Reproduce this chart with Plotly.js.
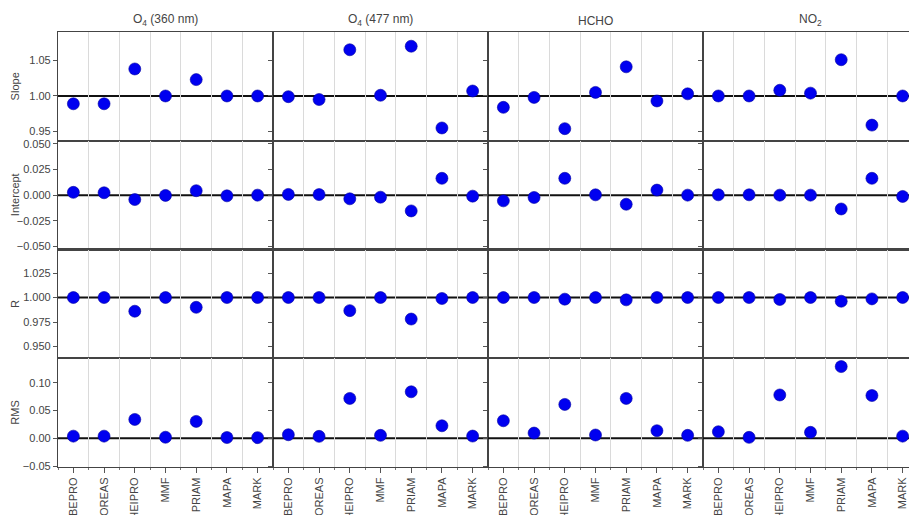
<!DOCTYPE html>
<html>
<head>
<meta charset="utf-8">
<script src="https://cdn.plot.ly/plotly-3.0.1.min.js"></script>
<style>
  html, body { margin: 0; padding: 0; overflow: hidden; background: #fff; }
</style>
</head>
<body>
<div id="chart"></div>
<script>
// Retrieval codes on the x axis of every panel
const retrievals = ['BEPRO', 'OREAS', 'HEIPRO', 'MMF', 'PRIAM', 'MAPA', 'MARK'];
// Column headers (species) and row labels (regression statistics)
const species = ['O<sub>4</sub> (360 nm)', 'O<sub>4</sub> (477 nm)', 'HCHO', 'NO<sub>2</sub>'];
const metrics = ['Slope', 'Intercept', 'R', 'RMS'];

// Slope
const slopeO4_360 = [0.989, 0.989, 1.038, 1.000, 1.023, 1.000, 1.000];
const slopeO4_477 = [0.999, 0.995, 1.065, 1.001, 1.070, 0.955, 1.007];
const slopeHCHO   = [0.984, 0.998, 0.954, 1.005, 1.041, 0.993, 1.003];
const slopeNO2    = [1.000, 1.000, 1.008, 1.004, 1.051, 0.959, 1.000];

// Intercept
const interceptO4_360 = [0.0027, 0.0023, -0.0043, -0.0003, 0.0043, -0.0007, 0.0000];
const interceptO4_477 = [0.0007, 0.0005, -0.0036, -0.0020, -0.0154, 0.0164, -0.0010];
const interceptHCHO   = [-0.0056, -0.0023, 0.0164, 0.0003, -0.0089, 0.0049, 0.0000];
const interceptNO2    = [0.0003, 0.0003, 0.0000, 0.0000, -0.0135, 0.0164, -0.0013];

// Correlation coefficient
const rO4_360 = [1.000, 1.000, 0.986, 1.000, 0.990, 1.000, 1.000];
const rO4_477 = [1.000, 1.000, 0.9866, 1.000, 0.978, 0.999, 1.000];
const rHCHO   = [1.000, 1.000, 0.9983, 1.000, 0.9976, 1.000, 1.000];
const rNO2    = [1.000, 1.000, 0.998, 1.000, 0.9962, 0.9986, 1.000];

// RMS
const rmsO4_360 = [0.004, 0.004, 0.034, 0.002, 0.0305, 0.0015, 0.0013];
const rmsO4_477 = [0.0065, 0.0036, 0.0718, 0.0054, 0.0837, 0.0226, 0.0041];
const rmsHCHO   = [0.0316, 0.0095, 0.061, 0.006, 0.0718, 0.0137, 0.0054];
const rmsNO2    = [0.0119, 0.0018, 0.078, 0.0108, 0.129, 0.077, 0.004];

const table = [
  [slopeO4_360, slopeO4_477, slopeHCHO, slopeNO2],
  [interceptO4_360, interceptO4_477, interceptHCHO, interceptNO2],
  [rO4_360, rO4_477, rHCHO, rNO2],
  [rmsO4_360, rmsO4_477, rmsHCHO, rmsNO2]
];

// Per-row axis settings and the ideal value drawn as a bold line
const yRanges = [[0.937, 1.09], [-0.053, 0.053], [0.938, 1.049], [-0.0515, 0.144]];
const yDticks = [0.05, 0.025, 0.025, 0.05];
const yFormats = ['.2f', '.3f', '.3f', '.2f'];
const idealValues = [1, 0, 1, 0];

const FONT = 'Liberation Sans, Arial, sans-serif';
const TXT = '#444';
const nRows = 4, nCols = 4;
const xIdx = retrievals.map((_, i) => i);

const data = [];
const layout = {
  width: 920, height: 515,
  margin: { l: 58, r: 2, t: 32, b: 48 },
  paper_bgcolor: '#fff', plot_bgcolor: '#fff',
  showlegend: false,
  font: { family: FONT, size: 11, color: TXT },
  shapes: [], annotations: []
};

for (let r = 0; r < nRows; r++) {
  for (let c = 0; c < nCols; c++) {
    const i = r * nCols + c + 1;
    const xs = i === 1 ? '' : String(i);
    const bottom = r === nRows - 1;
    const left = c === 0;

    data.push({
      type: 'scatter', mode: 'markers',
      x: xIdx, y: table[r][c],
      xaxis: 'x' + xs, yaxis: 'y' + xs,
      marker: { color: '#0000f0', size: 12, line: { width: 0.6, color: '#0000a0' } },
      cliponaxis: false,
      hoverinfo: 'skip'
    });

    layout['xaxis' + xs] = {
      domain: [c / nCols, (c + 1) / nCols],
      anchor: 'y' + xs,
      range: [-0.5, retrievals.length - 0.5],
      tickmode: 'array', tickvals: xIdx, ticktext: retrievals,
      showticklabels: bottom, tickangle: -90,
      ticks: bottom ? 'outside' : '', ticklen: 5, tickcolor: '#555', tickwidth: 1,
      tickfont: { family: FONT, size: 11, color: TXT },
      showgrid: false, zeroline: false,
      minor: { tick0: -0.5, dtick: 1, showgrid: true, gridcolor: '#dadada', gridwidth: 1,
               ticks: bottom ? 'outside' : '', ticklen: 2, tickcolor: '#777' },
      showline: true, mirror: true, linecolor: '#444', linewidth: 1.1,
      fixedrange: true
    };

    layout['yaxis' + xs] = {
      domain: [1 - (r + 1) / nRows, 1 - r / nRows],
      anchor: 'x' + xs,
      range: yRanges[r],
      tickmode: 'linear', tick0: 0, dtick: yDticks[r], tickformat: yFormats[r],
      showticklabels: left,
      ticks: 'outside', ticklen: 4, tickcolor: '#555', tickwidth: 1,
      tickfont: { family: FONT, size: 11, color: TXT },
      showgrid: false, zeroline: false,
      showline: true, mirror: true, linecolor: '#444', linewidth: 1.1,
      fixedrange: true
    };

    layout.shapes.push({
      type: 'line', layer: 'below',
      xref: 'x' + xs, x0: -0.5, x1: retrievals.length - 0.5,
      yref: 'y' + xs, y0: idealValues[r], y1: idealValues[r],
      line: { color: '#111', width: 2 }
    });
  }
}

// Column headers
species.forEach((s, c) => {
  layout.annotations.push({
    text: s, xref: 'paper', yref: 'paper',
    x: (c + 0.5) / nCols, y: 1, xanchor: 'center', yanchor: 'bottom', yshift: 2,
    showarrow: false, font: { family: FONT, size: 12, color: TXT }
  });
});

// Row labels
metrics.forEach((m, r) => {
  layout.annotations.push({
    text: m, xref: 'paper', yref: 'paper',
    x: -43 / 860, y: 1 - (r + 0.5) / nRows, xanchor: 'center', yanchor: 'middle',
    textangle: -90, showarrow: false, font: { family: FONT, size: 11, color: TXT }
  });
});

Plotly.newPlot('chart', data, layout, { staticPlot: true, displayModeBar: false });
</script>
</body>
</html>
